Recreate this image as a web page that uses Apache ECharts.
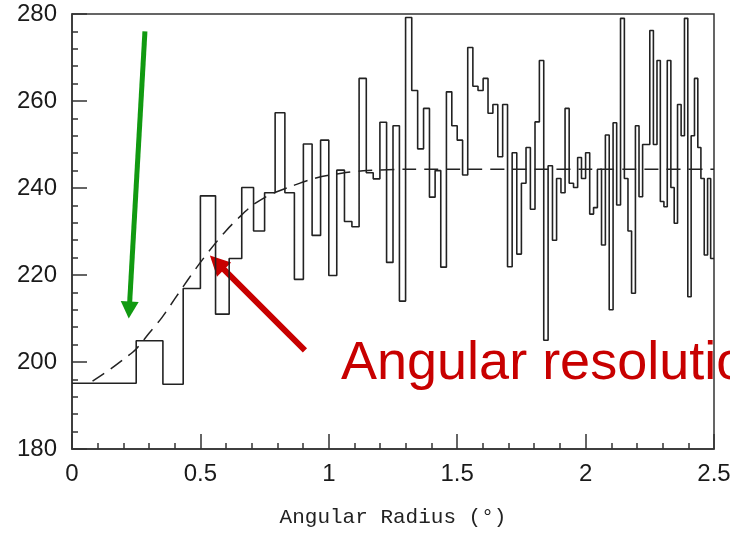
<!DOCTYPE html>
<html>
<head>
<meta charset="utf-8">
<script src="https://cdn.jsdelivr.net/npm/echarts@6.0.0/dist/echarts.min.js"></script>
<style>
  html, body { margin: 0; padding: 0; background: #fff; }
  #chart { width: 730px; height: 541px; }
</style>
</head>
<body>
<div id="chart"></div>
<script>
// equal-area radial bins, edges in degrees
const binEdges = [
  0, 0.25, 0.354, 0.433, 0.5, 0.559, 0.612, 0.661, 0.707, 0.75,
  0.791, 0.829, 0.866, 0.901, 0.935, 0.968, 1.0, 1.031, 1.061, 1.090,
  1.118, 1.146, 1.173, 1.199, 1.225, 1.25, 1.275, 1.299, 1.323, 1.346,
  1.369, 1.392, 1.414, 1.436, 1.458, 1.479, 1.5, 1.521, 1.541, 1.561,
  1.581, 1.601, 1.620, 1.639, 1.658, 1.677, 1.696, 1.714, 1.732, 1.75,
  1.768, 1.785, 1.803, 1.820, 1.837, 1.854, 1.871, 1.887, 1.904, 1.920,
  1.936, 1.953, 1.969, 1.984, 2.0, 2.016, 2.031, 2.046, 2.062, 2.077,
  2.092, 2.107, 2.121, 2.136, 2.151, 2.165, 2.179, 2.194, 2.208, 2.222,
  2.236, 2.25, 2.264, 2.278, 2.291, 2.305, 2.318, 2.332, 2.345, 2.358,
  2.372, 2.385, 2.398, 2.411, 2.424, 2.437, 2.449, 2.462, 2.475, 2.487,
  2.5
];
// counts per bin
const binCounts = [
  195.1, 204.9, 194.9, 216.9, 238.2, 211.0, 223.8, 240.1, 230.1, 238.9,
  257.3, 238.9, 219.0, 250.1, 229.1, 251.0, 219.9, 244.1, 232.3, 231.1,
  265.2, 243.5, 242.1, 255.1, 222.9, 254.3, 214.0, 279.2, 262.4, 249.0,
  258.3, 237.9, 244.0, 221.8, 262.1, 254.3, 251.0, 243.0, 272.3, 263.4,
  262.4, 265.2, 257.2, 259.2, 247.2, 259.2, 221.9, 248.1, 224.8, 241.1,
  249.3, 235.1, 255.2, 269.3, 205.0, 245.1, 228.0, 242.2, 238.9, 258.3,
  241.1, 240.1, 247.0, 242.2, 248.1, 234.0, 235.5, 244.3, 226.9, 252.2,
  212.0, 255.0, 236.1, 279.0, 242.2, 230.1, 215.8, 254.3, 238.0, 250.0,
  250.0, 276.2, 250.0, 269.3, 236.9, 235.7, 269.3, 240.1, 231.9, 259.2,
  252.0, 279.0, 215.0, 252.0, 265.2, 249.3, 242.2, 224.6, 242.2, 223.8
];
// dashed model curve
const fitX = [0.08, 0.15, 0.2, 0.25, 0.3, 0.35, 0.4, 0.45, 0.5, 0.55, 0.6, 0.65, 0.7, 0.75, 0.8, 0.85, 0.95, 1.05, 1.15, 1.3, 2.0, 2.5];
const fitY = [195.6, 198.4, 200.6, 203.0, 206.6, 210.2, 214.5, 218.8, 222.9, 226.7, 230.2, 233.2, 235.9, 237.8, 239.2, 240.3, 242.3, 243.4, 244.0, 244.3, 244.3, 244.3];

// annotations (data coords)
const greenArrow = [[0.284, 276.0], [0.221, 210.0]];
const redArrow = [[0.907, 202.7], [0.537, 224.5]];
const noteText = 'Angular resolution';

const stepData = [];
binCounts.forEach((v, i) => {
  stepData.push([binEdges[i], v]);
  stepData.push([binEdges[i + 1], v]);
});

const chart = echarts.init(document.getElementById('chart'));
chart.setOption({
  animation: false,
  backgroundColor: '#fff',
  grid: {
    left: 72, right: 16, top: 14, bottom: 92,
    show: true, borderColor: '#333', borderWidth: 1.5,
    outerBoundsMode: 'none'
  },
  xAxis: {
    type: 'value', min: 0, max: 2.5, interval: 0.5,
    name: 'Angular Radius (°)', nameLocation: 'middle', nameGap: 58,
    nameTextStyle: { fontFamily: 'Liberation Mono', fontSize: 21, color: '#222' },
    axisLine: { lineStyle: { color: '#333', width: 1.5 } },
    axisTick: { inside: true, length: 15, lineStyle: { color: '#333', width: 1.5 } },
    minorTick: { show: true, splitNumber: 5, length: 6, lineStyle: { color: '#333', width: 1.5 } },
    axisLabel: { fontFamily: 'Liberation Sans', fontSize: 24, color: '#1a1a1a', margin: 13 },
    splitLine: { show: false }
  },
  yAxis: {
    type: 'value', min: 180, max: 280, interval: 20,
    axisLine: { show: true, lineStyle: { color: '#333', width: 1.5 } },
    axisTick: { show: true, inside: true, length: 15, lineStyle: { color: '#333', width: 1.5 } },
    minorTick: { show: true, splitNumber: 5, length: 6, lineStyle: { color: '#333', width: 1.5 } },
    axisLabel: { fontFamily: 'Liberation Sans', fontSize: 24, color: '#1a1a1a', margin: 15 },
    splitLine: { show: false }
  },
  series: [
    {
      type: 'line', data: stepData, symbol: 'none',
      lineStyle: { color: '#222', width: 1.6 }
    },
    {
      type: 'line', data: fitX.map((x, i) => [x, fitY[i]]), symbol: 'none', smooth: 0.3,
      lineStyle: { color: '#222', width: 1.5, type: [14, 8] }
    }
  ]
});

function arrow(pts, color, width, headLen, headW) {
  const p0 = chart.convertToPixel({ gridIndex: 0 }, pts[0]);
  const p1 = chart.convertToPixel({ gridIndex: 0 }, pts[1]);
  const dx = p1[0] - p0[0], dy = p1[1] - p0[1];
  const len = Math.sqrt(dx * dx + dy * dy);
  const ux = dx / len, uy = dy / len;
  const bx = p1[0] - ux * headLen, by = p1[1] - uy * headLen;
  const nx = -uy, ny = ux;
  return [
    { type: 'line', shape: { x1: p0[0], y1: p0[1], x2: bx + ux, y2: by + uy },
      style: { stroke: color, lineWidth: width } },
    { type: 'polygon', shape: { points: [
        [p1[0], p1[1]],
        [bx + nx * headW / 2, by + ny * headW / 2],
        [bx - nx * headW / 2, by - ny * headW / 2]
      ] }, style: { fill: color } }
  ];
}

chart.setOption({
  graphic: [
    ...arrow(greenArrow, '#119a11', 5, 17, 18),
    ...arrow(redArrow, '#c80000', 6, 20, 20),
    { type: 'text', x: 341, y: 364,
      style: { text: noteText, fill: '#c80000', fontFamily: 'Liberation Sans', fontSize: 54, verticalAlign: 'middle' } }
  ]
});
</script>
</body>
</html>
